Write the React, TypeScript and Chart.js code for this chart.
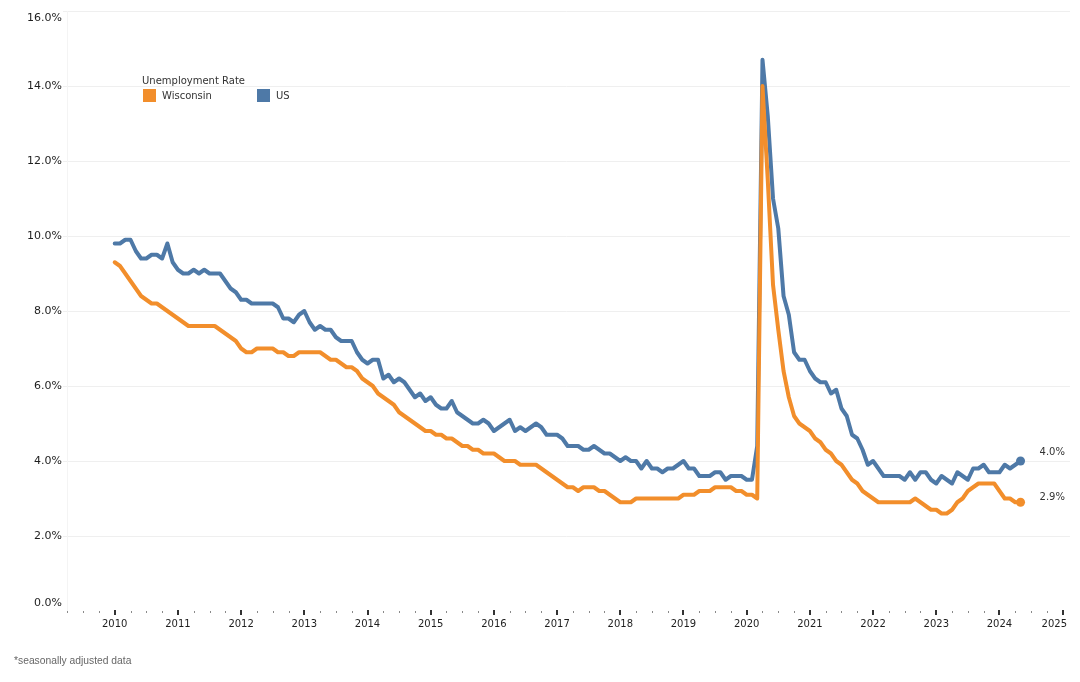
import React, { useEffect, useRef } from "react";
import { Chart, registerables } from "chart.js";

Chart.register(...registerables);

// Monthly, seasonally adjusted, Jan 2010 – May 2024
const START_YEAR = 2010;

const usRate = [
  // 2010
  9.8, 9.8, 9.9, 9.9, 9.6, 9.4, 9.4, 9.5, 9.5, 9.4, 9.8, 9.3,
  // 2011
  9.1, 9.0, 9.0, 9.1, 9.0, 9.1, 9.0, 9.0, 9.0, 8.8, 8.6, 8.5,
  // 2012
  8.3, 8.3, 8.2, 8.2, 8.2, 8.2, 8.2, 8.1, 7.8, 7.8, 7.7, 7.9,
  // 2013
  8.0, 7.7, 7.5, 7.6, 7.5, 7.5, 7.3, 7.2, 7.2, 7.2, 6.9, 6.7,
  // 2014
  6.6, 6.7, 6.7, 6.2, 6.3, 6.1, 6.2, 6.1, 5.9, 5.7, 5.8, 5.6,
  // 2015
  5.7, 5.5, 5.4, 5.4, 5.6, 5.3, 5.2, 5.1, 5.0, 5.0, 5.1, 5.0,
  // 2016
  4.8, 4.9, 5.0, 5.1, 4.8, 4.9, 4.8, 4.9, 5.0, 4.9, 4.7, 4.7,
  // 2017
  4.7, 4.6, 4.4, 4.4, 4.4, 4.3, 4.3, 4.4, 4.3, 4.2, 4.2, 4.1,
  // 2018
  4.0, 4.1, 4.0, 4.0, 3.8, 4.0, 3.8, 3.8, 3.7, 3.8, 3.8, 3.9,
  // 2019
  4.0, 3.8, 3.8, 3.6, 3.6, 3.6, 3.7, 3.7, 3.5, 3.6, 3.6, 3.6,
  // 2020
  3.5, 3.5, 4.4, 14.7, 13.2, 11.0, 10.2, 8.4, 7.9, 6.9, 6.7, 6.7,
  // 2021
  6.4, 6.2, 6.1, 6.1, 5.8, 5.9, 5.4, 5.2, 4.7, 4.6, 4.3, 3.9,
  // 2022
  4.0, 3.8, 3.6, 3.6, 3.6, 3.6, 3.5, 3.7, 3.5, 3.7, 3.7, 3.5,
  // 2023
  3.4, 3.6, 3.5, 3.4, 3.7, 3.6, 3.5, 3.8, 3.8, 3.9, 3.7, 3.7,
  // 2024
  3.7, 3.9, 3.8, 3.9, 4.0,
];

const wiRate = [
  // 2010
  9.3, 9.2, 9.0, 8.8, 8.6, 8.4, 8.3, 8.2, 8.2, 8.1, 8.0, 7.9,
  // 2011
  7.8, 7.7, 7.6, 7.6, 7.6, 7.6, 7.6, 7.6, 7.5, 7.4, 7.3, 7.2,
  // 2012
  7.0, 6.9, 6.9, 7.0, 7.0, 7.0, 7.0, 6.9, 6.9, 6.8, 6.8, 6.9,
  // 2013
  6.9, 6.9, 6.9, 6.9, 6.8, 6.7, 6.7, 6.6, 6.5, 6.5, 6.4, 6.2,
  // 2014
  6.1, 6.0, 5.8, 5.7, 5.6, 5.5, 5.3, 5.2, 5.1, 5.0, 4.9, 4.8,
  // 2015
  4.8, 4.7, 4.7, 4.6, 4.6, 4.5, 4.4, 4.4, 4.3, 4.3, 4.2, 4.2,
  // 2016
  4.2, 4.1, 4.0, 4.0, 4.0, 3.9, 3.9, 3.9, 3.9, 3.8, 3.7, 3.6,
  // 2017
  3.5, 3.4, 3.3, 3.3, 3.2, 3.3, 3.3, 3.3, 3.2, 3.2, 3.1, 3.0,
  // 2018
  2.9, 2.9, 2.9, 3.0, 3.0, 3.0, 3.0, 3.0, 3.0, 3.0, 3.0, 3.0,
  // 2019
  3.1, 3.1, 3.1, 3.2, 3.2, 3.2, 3.3, 3.3, 3.3, 3.3, 3.2, 3.2,
  // 2020
  3.1, 3.1, 3.0, 14.0, 11.5, 8.7, 7.5, 6.4, 5.7, 5.2, 5.0, 4.9,
  // 2021
  4.8, 4.6, 4.5, 4.3, 4.2, 4.0, 3.9, 3.7, 3.5, 3.4, 3.2, 3.1,
  // 2022
  3.0, 2.9, 2.9, 2.9, 2.9, 2.9, 2.9, 2.9, 3.0, 2.9, 2.8, 2.7,
  // 2023
  2.7, 2.6, 2.6, 2.7, 2.9, 3.0, 3.2, 3.3, 3.4, 3.4, 3.4, 3.4,
  // 2024
  3.2, 3.0, 3.0, 2.9, 2.9,
];

const yTicks = [0, 2, 4, 6, 8, 10, 12, 14, 16];
const yearTicks = [2010, 2011, 2012, 2013, 2014, 2015, 2016, 2017, 2018, 2019, 2020, 2021, 2022, 2023, 2024, 2025];
const seriesNames = ["Wisconsin", "US"];
const legendTitle = "Unemployment Rate";
const footnote = "*seasonally adjusted data";

const WI_COLOR = "#f28e2b";
const US_COLOR = "#4e79a7";
const FONT = "'DejaVu Sans', Verdana, sans-serif";

const toPoints = (arr: number[]) => arr.map((v, i) => ({ x: START_YEAR + i / 12, y: v }));

const decorPlugin = {
  id: "decor",
  beforeDatasetsDraw(chart: any) {
    const { ctx, chartArea: a, scales } = chart;
    const x = scales.x;
    const y = scales.y;
    ctx.save();

    // horizontal grid lines
    ctx.strokeStyle = "#efefef";
    ctx.lineWidth = 1;
    yTicks.forEach((v) => {
      if (v === y.min) return;
      const py = Math.round(y.getPixelForValue(v)) + 0.5;
      ctx.beginPath();
      ctx.moveTo(a.left - 4, py);
      ctx.lineTo(a.right, py);
      ctx.stroke();
    });

    // faint vertical axis line
    ctx.strokeStyle = "#f4f4f4";
    ctx.beginPath();
    ctx.moveTo(a.left + 0.5, a.top);
    ctx.lineTo(a.left + 0.5, a.bottom);
    ctx.stroke();

    // x axis ticks: years (major) and quarters (minor)
    const base = a.bottom;
    for (let q = Math.ceil(x.min * 4); q <= Math.floor(x.max * 4); q++) {
      const px = Math.round(x.getPixelForValue(q / 4));
      if (q % 4 === 0) {
        ctx.fillStyle = "#333333";
        ctx.fillRect(px - 1, base - 1, 2, 5);
      } else {
        ctx.fillStyle = "#8a8a8a";
        ctx.fillRect(px, base, 1, 2);
      }
    }

    // y tick labels
    ctx.fillStyle = "#1e1e1e";
    ctx.font = `11px ${FONT}`;
    ctx.textAlign = "right";
    ctx.textBaseline = "middle";
    yTicks.forEach((v) => {
      let py = y.getPixelForValue(v);
      if (v === y.max) py += 7;
      if (v === y.min) py -= 8;
      ctx.fillText(v.toFixed(1) + "%", a.left - 5, py);
    });

    // x tick labels (kept inside the right edge)
    ctx.font = `10px ${FONT}`;
    ctx.textAlign = "center";
    yearTicks.forEach((yr) => {
      const label = String(yr);
      const w = ctx.measureText(label).width;
      let cx = x.getPixelForValue(yr);
      const maxRight = a.right - 3;
      if (cx + w / 2 > maxRight) cx = maxRight - w / 2;
      ctx.fillText(label, cx, base + 13);
    });

    // legend
    ctx.textAlign = "left";
    ctx.fillStyle = "#333333";
    ctx.font = `10px ${FONT}`;
    ctx.fillText(legendTitle, 142, 81);
    const items = [
      { name: seriesNames[0], color: WI_COLOR, x: 143 },
      { name: seriesNames[1], color: US_COLOR, x: 257 },
    ];
    items.forEach((it) => {
      ctx.fillStyle = it.color;
      ctx.fillRect(it.x, 89, 13, 13);
      ctx.fillStyle = "#333333";
      ctx.fillText(it.name, it.x + 19, 96);
    });

    ctx.restore();
  },
  afterDatasetsDraw(chart: any) {
    const { ctx } = chart;
    ctx.save();
    ctx.font = `10px ${FONT}`;
    ctx.fillStyle = "#333333";
    ctx.textAlign = "left";
    ctx.textBaseline = "middle";
    const offsets = [-5, -9];
    chart.data.datasets.forEach((ds: any, di: number) => {
      const meta = chart.getDatasetMeta(di);
      const last = meta.data[meta.data.length - 1];
      const val = ds.data[ds.data.length - 1].y;
      ctx.fillText(val.toFixed(1) + "%", last.x + 19, last.y + offsets[di]);
    });
    ctx.restore();
  },
};

export default function App() {
  const canvasRef = useRef<HTMLCanvasElement | null>(null);

  useEffect(() => {
    if (!canvasRef.current) return;
    const lastIdx = (arr: number[]) => arr.length - 1;
    const chart = new Chart(canvasRef.current, {
      type: "line",
      data: {
        datasets: [
          {
            label: seriesNames[0],
            data: toPoints(wiRate),
            borderColor: WI_COLOR,
            backgroundColor: WI_COLOR,
            borderWidth: 4,
            pointRadius: (c: any) => (c.dataIndex === lastIdx(wiRate) ? 4.5 : 0),
            pointBorderWidth: 0,
            pointHoverRadius: 0,
            order: 0,
          },
          {
            label: seriesNames[1],
            data: toPoints(usRate),
            borderColor: US_COLOR,
            backgroundColor: US_COLOR,
            borderWidth: 4,
            pointRadius: (c: any) => (c.dataIndex === lastIdx(usRate) ? 4.5 : 0),
            pointBorderWidth: 0,
            pointHoverRadius: 0,
            order: 1,
          },
        ],
      },
      options: {
        responsive: false,
        animation: false,
        devicePixelRatio: 1,
        layout: { padding: { left: 67, right: 10, top: 11, bottom: 71 } },
        scales: {
          x: { type: "linear", min: 2009.245, max: 2025.116, display: false },
          y: { type: "linear", min: 0, max: 16, display: false },
        },
        elements: {
          line: { tension: 0, borderJoinStyle: "round", borderCapStyle: "round" },
        },
        plugins: {
          legend: { display: false },
          tooltip: { enabled: false },
        },
      } as any,
      plugins: [decorPlugin],
    });
    return () => chart.destroy();
  }, []);

  return (
    <div style={{ position: "absolute", left: 0, top: 0, width: 1080, height: 682, background: "#ffffff" }}>
      <canvas ref={canvasRef} width={1080} height={682} style={{ position: "absolute", left: 0, top: 0 }} />
      <div
        style={{
          position: "absolute",
          left: 14,
          top: 654,
          fontFamily: "'Liberation Sans', Arial, sans-serif",
          fontSize: "10.3px",
          lineHeight: "14px",
          color: "#666666",
          whiteSpace: "nowrap",
        }}
      >
        {footnote}
      </div>
    </div>
  );
}
